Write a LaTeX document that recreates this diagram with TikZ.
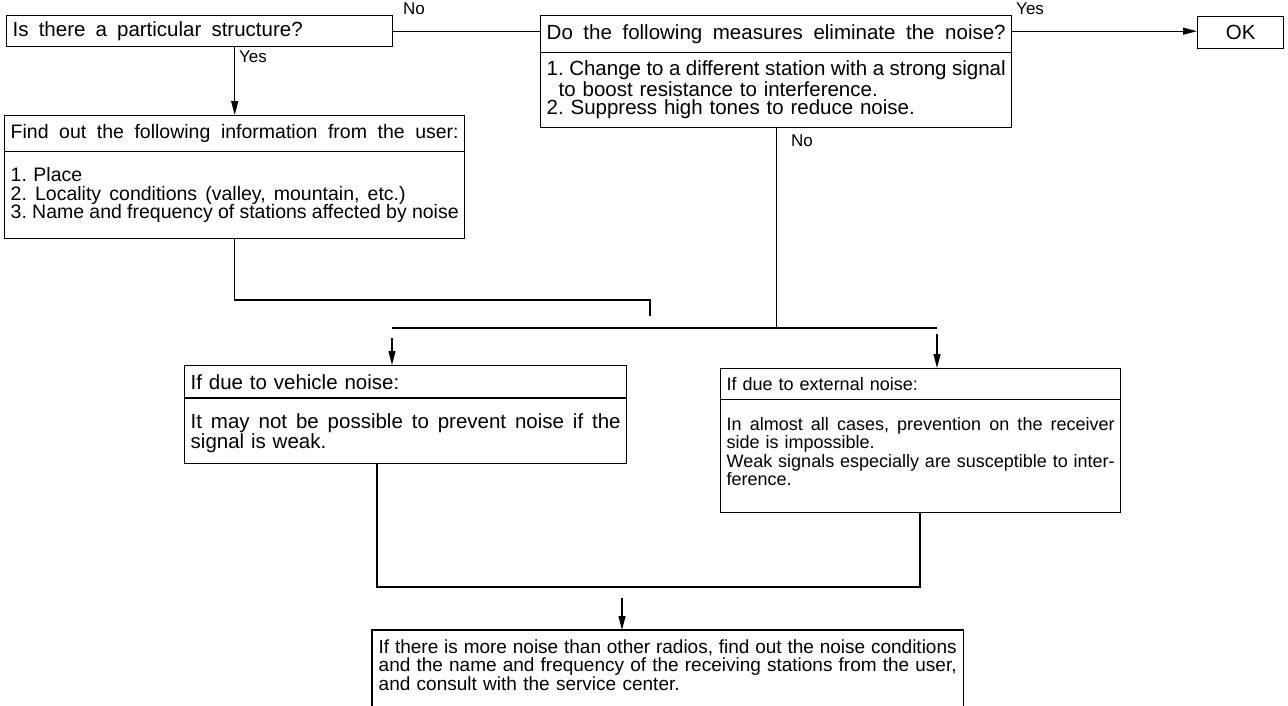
\documentclass[tikz,border=0pt]{standalone}
\usepackage{fontspec}
\setmainfont{Liberation Sans}
\usetikzlibrary{positioning,shapes.multipart,arrows.meta}
\newcommand\boxfont[1][20.5]{\fontsize{#1}{18.5}\selectfont\frenchspacing}
\newcommand\lblfont{\fontsize{17}{17}\selectfont}
\newcommand\fullln[2][\hsize]{\noindent{\spaceskip=.25em plus 1fil\relax\hbox to #1{#2}}}
\newcommand\topgap[1][22pt]{\noindent\rule{0pt}{#1}}
\newcommand\botgap[1][11pt]{\rule[-#1]{0pt}{0pt}}
\tikzset{
  chart/.style={draw, line width=1.4pt, rectangle split, rectangle split parts=2,
    align=left, inner xsep=6pt, inner ysep=8pt, font=\boxfont, anchor=north west},
  single/.style={draw, line width=1.4pt, align=left, inner xsep=6pt, inner ysep=4pt,
    font=\boxfont, anchor=north west},
  link/.style={line width=1.3pt},
  arr/.style={line width=1.3pt, -{Triangle[length=14pt,width=7pt]}},
  lbl/.style={font=\lblfont, inner sep=1pt, anchor=north west}
}
\begin{document}
\begin{tikzpicture}[x=1pt,y=-1pt]
\useasboundingbox (0,0) rectangle (1288,705);
\node[single, text width=374pt, minimum height=31pt] (quest) at (6,15)
  {\fullln[290pt]{Is there a particular structure?}};
\node[chart, text width=459pt] (meas) at (540,15)
  {\fullln{Do the following measures eliminate the noise?}
   \nodepart{two}\topgap[15pt]\fullln{1. Change to a different station with a strong signal}\\
   \hspace*{12pt}to boost resistance to interference.\\
   2. Suppress high tones to reduce noise.};
\node[single, minimum width=86pt, minimum height=32pt, align=center] (ok) at (1197,16) {OK};
\node[chart, text width=448pt, font={\boxfont[19.5]}] (info) at (4,115)
  {\fullln{Find out the following information from the user:}
   \nodepart{two}\topgap 1. Place\\
   \fullln[395pt]{2. Locality conditions (valley, mountain, etc.)}\\
   \fullln{3. Name and frequency of stations affected by noise}\botgap};
\node[chart, text width=430pt] (veh) at (184,365)
  {If due to vehicle noise:
   \nodepart{two}\topgap\fullln{It may not be possible to prevent noise if the}\\
   signal is weak.\botgap[6pt]};
\node[chart, text width=388pt, font={\boxfont[18]}] (ext) at (720,368)
  {If due to external noise:
   \nodepart{two}\topgap\fullln{In almost all cases, prevention on the receiver}\\
   side is impossible.\\
   \fullln{Weak signals especially are susceptible to inter-}\\
   ference.\botgap[18pt]};
\node[single, draw=none, text width=578pt, inner ysep=9pt, font={\boxfont[19]}] (fin) at (372,630)
  {\fullln{If there is more noise than other radios, find out the noise conditions}\\
   \fullln{and the name and frequency of the receiving stations from the user,}\\
   and consult with the service center.};
\node[lbl] (no1) at (402,2) {No};
\node[lbl] (yes1) at (1015,2) {Yes};
\node[lbl] (yes2) at (238,50) {Yes};
\node[lbl] (no2) at (790,134) {No};
\coordinate (j1) at (650,300);
\coordinate (j1e) at (650,316);
\coordinate (hl) at (392,328);
\coordinate (hr) at (937,328);
\coordinate (b1) at (377,587);
\coordinate (b2) at (920,587);
\coordinate (fa) at (622,598);
\coordinate (pagebot) at (0,706);
\draw[link] (quest.east) -- (quest.east -| meas.west);
\draw[arr] (quest.east -| meas.east) -- (quest.east -| ok.west);
\draw[arr] (quest.south -| info.north) -- (info.north);
\draw[link] (info.south) |- (j1) -- (j1e);
\draw[link] (meas.south) -- (meas.south |- hl);
\draw[link] (hl) -- (hr);
\draw[arr] ([yshift=-10pt]hl) -- (hl |- veh.north);
\draw[arr] ([yshift=-6pt]hr) -- (hr |- ext.north);
\draw[link] (veh.south -| b1) -- (b1) -- (b2) -- (b2 |- ext.south);
\draw[arr] (fa) -- (fa |- fin.north);
\draw[link] (fin.north west |- pagebot) -- (fin.north west) -- (fin.north east) -- (fin.north east |- pagebot);
\end{tikzpicture}
\end{document}
